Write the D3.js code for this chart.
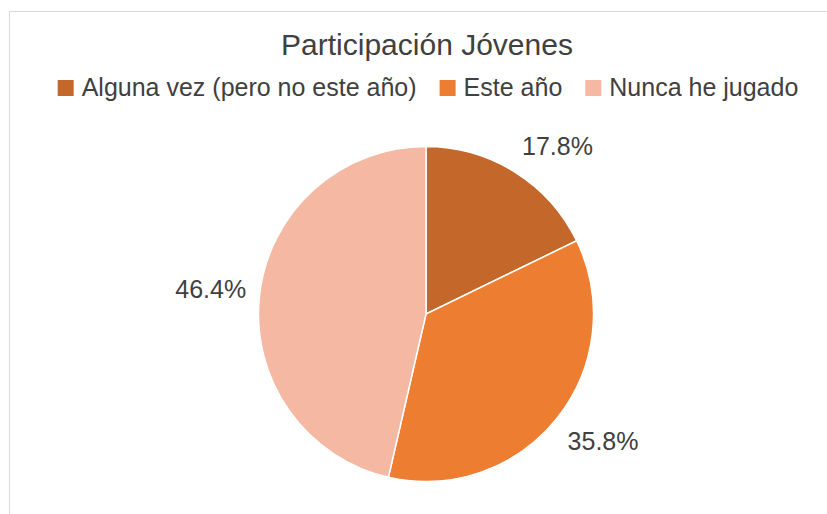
<!DOCTYPE html>
<html lang="es">
<head>
    <meta charset="UTF-8">
    <title>Participación Jóvenes</title>
    <script src="https://d3js.org/d3.v7.min.js"></script>
    <style>
        body { margin: 0; background: #fff; }
        svg { display: block; font-family: "Liberation Sans", Arial, sans-serif; }
    </style>
</head>
<body>
<svg id="chart" width="827" height="514"></svg>

<script>
    const categories = ["Alguna vez (pero no este año)", "Este año", "Nunca he jugado"];
    const values = [17.8, 35.8, 46.4];
    const labels = ["17.8%", "35.8%", "46.4%"];
    const colors = ["#C4672A", "#ED7D31", "#F4B8A3"];
    const title = "Participación Jóvenes";

    const svg = d3.select("#chart");
    const textColor = "#404040";

    // chart frame (runs off the right and bottom edges)
    svg.append("rect")
        .attr("x", 9.5).attr("y", 11.5)
        .attr("width", 900).attr("height", 600)
        .attr("fill", "#fff")
        .attr("stroke", "#D9D9D9");

    svg.append("text")
        .attr("x", 427).attr("y", 55)
        .attr("text-anchor", "middle")
        .attr("font-size", 30)
        .attr("fill", textColor)
        .text(title);

    // legend, centred as one row
    const legend = svg.append("g");
    let x = 0;
    categories.forEach((c, i) => {
        const item = legend.append("g").attr("transform", `translate(${x},0)`);
        item.append("rect")
            .attr("x", 0).attr("y", 80)
            .attr("width", 16).attr("height", 16)
            .attr("fill", colors[i]);
        const t = item.append("text")
            .attr("x", 24).attr("y", 96)
            .attr("font-size", 25)
            .attr("fill", textColor)
            .text(c);
        x += 24 + t.node().getComputedTextLength() + 23;
    });
    const legendWidth = x - 23;
    legend.attr("transform", `translate(${428 - legendWidth / 2},0)`);

    // pie
    const cx = 426, cy = 314, r = 167.5;
    const pie = d3.pie().sort(null).value(d => d);
    const arcs = pie(values);
    const arc = d3.arc().innerRadius(0).outerRadius(r);
    const labelArc = d3.arc().innerRadius(r + 13.5).outerRadius(r + 13.5);

    const g = svg.append("g").attr("transform", `translate(${cx},${cy})`);

    g.selectAll("path")
        .data(arcs)
        .enter().append("path")
        .attr("d", arc)
        .attr("fill", (d, i) => colors[i])
        .attr("stroke", "#fff")
        .attr("stroke-width", 1.5);

    // outside-end labels: the label's line box touches the anchor point on the ray
    const clamp = v => Math.max(-1, Math.min(1, v));
    const ascent = 23, descent = 6, boxH = ascent + descent;
    const lab = g.selectAll("text")
        .data(arcs)
        .enter().append("text")
        .attr("text-anchor", "middle")
        .attr("font-size", 25)
        .attr("fill", textColor)
        .text((d, i) => labels[i]);

    lab.each(function(d) {
        const w = this.getComputedTextLength();
        const a = (d.startAngle + d.endAngle) / 2;
        const [px, py] = labelArc.centroid(d);
        const lx = px + (w / 2) * clamp(Math.sin(a) * 2.5);
        const ly = py - (boxH / 2) * clamp(Math.cos(a) * 2.5);
        d3.select(this).attr("x", lx).attr("y", ly + ascent - boxH / 2);
    });
</script>
</body>
</html>
